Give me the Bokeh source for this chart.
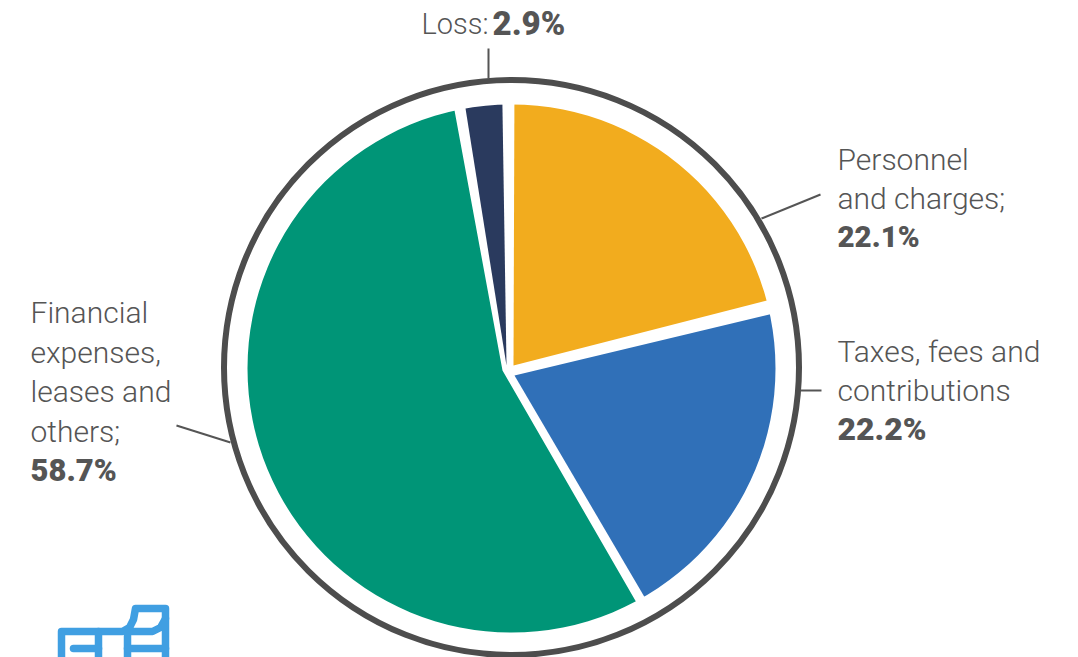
from math import pi
import numpy as np
from bokeh.plotting import figure
from bokeh.models import Range1d
from bokeh.core.properties import value
from bokeh.embed import file_html
from bokeh.resources import INLINE

W, H = 1078, 657
CX, CY = 511, 368

categories = ["Personnel and charges", "Taxes, fees and contributions",
              "Financial expenses, leases and others", "Loss"]
shares = [22.1, 22.2, 58.7, 2.9]
colors = ["#F2AC1E", "#3070B8", "#009577", "#2A3A5E"]

# Each slice sits on its own apex, pulled slightly apart, with its edges
# trimmed by a few tenths of a degree so the white gaps widen towards the rim
apexes = [(513, 365), (514, 375), (502, 370), (506, 365)]
trims = [(0.2, 0.5), (1.4, -1.0), (-0.6, -0.6), (0.8, -0.9)]

LIGHT = value("Roboto Light")
BOLD = value("Roboto Black")
INK = "#555555"
ICON = "#409FE2"
TEXT_SHIFT = 11


def sx(x):
    return x - CX


def sy(y):
    return CY - y


p = figure(width=W, height=H, output_backend="svg", toolbar_location=None,
           x_range=Range1d(sx(0), sx(W)), y_range=Range1d(sy(H), sy(0)),
           min_border=0, outline_line_color=None)
p.axis.visible = False
p.grid.visible = False
p.background_fill_color = "white"
p.border_fill_color = "white"

# Slices run clockwise from twelve o'clock
s = np.array(shares, dtype=float)
edges = np.concatenate([[0], np.cumsum(s / s.sum())]) * 360.0
for i in range(len(shares)):
    first = edges[i] + trims[i][0]
    last = edges[i + 1] + trims[i][1]
    p.wedge(x=sx(apexes[i][0]), y=sy(apexes[i][1]), radius=278,
            start_angle=(90 - last) * pi / 180, end_angle=(90 - first) * pi / 180,
            fill_color=colors[i], line_color=None)

# White band trims the slices to a common disc; the dark ring sits on top
p.annulus(x=0, y=0, inner_radius=264, outer_radius=292, fill_color="white", line_color=None)
p.circle(x=0, y=1, radius=287.5, fill_color=None, line_color="#4D4D4D", line_width=6)

# Leader lines from the ring to each label
leaders = [((488, 48), (488, 78)), ((820, 194), (761, 218)),
           ((800, 390), (821, 390)), ((176, 425), (230, 442))]
p.multi_line([[sx(a[0]), sx(b[0])] for a, b in leaders],
             [[sy(a[1]), sy(b[1])] for a, b in leaders],
             line_color=INK, line_width=2)

# Labels: (left, baseline, text, is_bold, font size)
labels = [
    (421, 34, "Loss:", False, 29), (492, 34, f"{shares[3]}%", True, 33),
    (837, 170, "Personnel", False, 30), (837, 209, "and charges;", False, 30),
    (837, 247, f"{shares[0]}%", True, 29.5),
    (837, 362, "Taxes, fees and", False, 30), (837, 401, "contributions", False, 30),
    (837, 439, f"{shares[1]}%", True, 32),
    (30, 323, "Financial", False, 30), (30, 363, "expenses,", False, 30),
    (30, 402, "leases and", False, 30), (30, 442, "others;", False, 30),
    (30, 481, f"{shares[2]}%", True, 31),
]
for left, base, txt, bold, size in labels:
    p.text([sx(left)], [sy(base - TEXT_SHIFT)], text=[txt],
           text_font=BOLD if bold else LIGHT, text_font_size=f"{size}px",
           text_color=INK, text_align="left", text_baseline="alphabetic")

# Logo cropped by the bottom edge of the page
logo_strokes = [
    [(61, 657), (61, 631), (122, 631), (129, 627), (133, 619), (135, 608), (165, 608),
     (165, 618), (160, 627), (152, 631), (128, 631)],
    [(98, 631), (98, 657)],
    [(98, 648), (73, 648)],
    [(127, 631), (127, 657)],
    [(165, 618), (165, 657)],
    [(127, 648), (165, 648)],
]
p.multi_line([[sx(q[0]) for q in st] for st in logo_strokes],
             [[sy(q[1]) for q in st] for st in logo_strokes],
             line_color=ICON, line_width=7.5, line_join="round", line_cap="round")

open("out.html", "w").write(file_html(p, INLINE))
